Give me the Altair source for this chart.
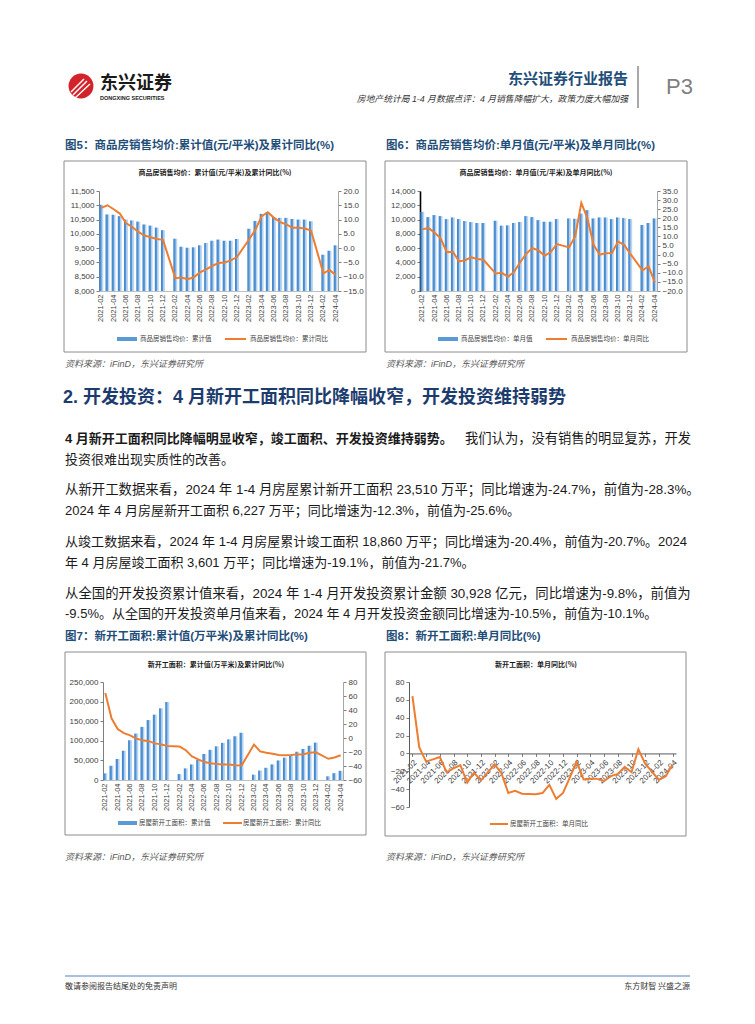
import altair as alt
import pandas as pd

SANS = "Liberation Sans, Noto Sans CJK SC"
CJK = "Noto Sans CJK SC, Liberation Sans"
NAVY = "#1f4e79"
ORANGE = "#ed7d31"
BLUE = "#5b9bd5"
AXC = "#404040"
W, H = 739, 1008

# ---------------- data ----------------
SLOTS = [
    "2021-02", "2021-03", "2021-04", "2021-05", "2021-06", "2021-07", "2021-08", "2021-09", "2021-10", "2021-11", "2021-12",
    "2022-01", "2022-02", "2022-03", "2022-04", "2022-05", "2022-06", "2022-07", "2022-08", "2022-09", "2022-10", "2022-11", "2022-12",
    "2023-01", "2023-02", "2023-03", "2023-04", "2023-05", "2023-06", "2023-07", "2023-08", "2023-09", "2023-10", "2023-11", "2023-12",
    "2024-01", "2024-02", "2024-03", "2024-04",
]
TICKS = SLOTS[::2]

# 图5 商品房销售均价 累计值(元/平米) / 累计同比(%)
PRICE_CUM = [11020, 10680, 10670, 10620, 10500, 10470, 10430, 10330, 10290, 10220, 10130,
             None, 9830, 9550, 9515, 9530, 9600, 9680, 9760, 9800, 9760, 9760, 9820,
             None, 10180, 10450, 10700, 10760, 10580, 10560, 10560, 10520, 10500, 10500, 10440,
             None, 9270, 9410, 9600]
PRICE_CUM_YOY = [14.1, 15.0, 13.6, 12.1, 8.8, 7.4, 5.7, 4.4, 3.8, 3.2, 2.9,
                 None, -10.5, -10.3, -10.9, -10.2, -8.5, -7.4, -6.2, -5.2, -5.0, -4.3, -3.1,
                 None, 3.2, 6.5, 11.2, 12.6, 10.6, 9.1, 8.3, 7.1, 7.1, 6.9, 6.2,
                 None, -8.8, -7.6, -9.4]
# 图6 商品房销售均价 单月值(元/平米) / 单月同比(%)
PRICE_MON = [11090, 10350, 10630, 10490, 10070, 10300, 10070, 9790, 9650, 9520, 9520,
             None, 9840, 9150, 9190, 9520, 9650, 10490, 10350, 9930, 9700, 9700, 10070,
             None, 10160, 10120, 10850, 11320, 10160, 10300, 10300, 10070, 10300, 10210, 10070,
             None, 9240, 9520, 10160]
PRICE_MON_YOY = [13.9, 14.7, 12.1, 9.0, 1.4, 1.6, -3.7, -3.1, -1.5, -2.4, -2.8,
                 None, -10.4, -10.0, -12.2, -9.5, -4.2, 0.5, 3.6, 2.3, -0.6, 1.4, 5.8,
                 None, 4.0, 10.0, 28.5, 20.0, 5.4, 0.0, 0.7, 0.9, 7.2, 5.4, 0.5,
                 None, -8.7, -6.4, -15.1]
# 图7 新开工面积 累计值(万平米) / 累计同比(%)
START_CUM = [17001, 36163, 53647, 74700, 101288, 118469, 135502, 152944, 166736, 182820, 198895,
             None, 15112, 29638, 39739, 51628, 66423, 76918, 85905, 94767, 103722, 111632, 120587,
             None, 13567, 24121, 31152, 39723, 49880, 56969, 63891, 72123, 79177, 87456, 95376,
             None, 9429, 17402, 23510]
START_CUM_YOY = [64.3, 28.2, 12.8, 6.9, 3.8, -0.9, -3.2, -4.5, -7.7, -9.1, -11.4,
                 None, -12.2, -17.5, -26.3, -30.6, -34.4, -36.1, -37.2, -38.0, -37.8, -38.9, -39.4,
                 None, -9.4, -19.2, -21.2, -22.6, -24.3, -24.5, -24.4, -23.4, -23.2, -21.2, -20.4,
                 None, -29.7, -27.8, -24.6]
# 图8 新开工面积 单月同比(%)
START_MON_YOY = [64.3, 6.7, -9.2, -6.7, -4.1, -21.1, -16.7, -13.0, -32.6, -21.5, -30.4,
                 None, -12.2, -22.2, -44.2, -41.8, -45.1, -45.4, -45.7, -44.4, -35.1, -50.9, -44.3,
                 None, -9.4, -29.1, -28.3, -28.5, -30.9, -25.4, -23.0, -15.1, -21.0, 4.6, -11.5,
                 None, -29.7, -25.6, -12.3]

# ---------------- texts ----------------
SOURCE = "资料来源：iFinD，东兴证券研究所"
FIG5 = "图5：商品房销售均价:累计值(元/平米)及累计同比(%)"
FIG6 = "图6：商品房销售均价:单月值(元/平米)及单月同比(%)"
FIG7 = "图7：新开工面积:累计值(万平米)及累计同比(%)"
FIG8 = "图8：新开工面积:单月同比(%)"
HEADING = "2. 开发投资：4 月新开工面积同比降幅收窄，开发投资维持弱势"
P1A = "4 月新开工面积同比降幅明显收窄，竣工面积、开发投资维持弱势。"
P1B = "我们认为，没有销售的明显复苏，开发"
LINES = [
    "投资很难出现实质性的改善。",
    "从新开工数据来看，2024 年 1-4 月房屋累计新开工面积 23,510 万平；同比增速为-24.7%，前值为-28.3%。",
    "2024 年 4 月房屋新开工面积 6,227 万平；同比增速为-12.3%，前值为-25.6%。",
    "从竣工数据来看，2024 年 1-4 月房屋累计竣工面积 18,860 万平；同比增速为-20.4%，前值为-20.7%。2024",
    "年 4 月房屋竣工面积 3,601 万平；同比增速为-19.1%，前值为-21.7%。",
    "从全国的开发投资累计值来看，2024 年 1-4 月开发投资累计金额 30,928 亿元，同比增速为-9.8%，前值为",
    "-9.5%。从全国的开发投资单月值来看，2024 年 4 月开发投资金额同比增速为-10.5%，前值为-10.1%。",
]

ONE = pd.DataFrame({"k": [0]})
PI, PO = 0.35, 0.05
PT = (1 - PI + 2 * PO) / 2   # point padding matching the band centres


def frame(vals):
    rows = [(m, v) for m, v in zip(SLOTS, vals) if v is not None]
    return pd.DataFrame(rows, columns=["m", "v"])


def T(s, x, y, size, color="#1a1a1a", weight="normal", align="left", font=CJK, style="normal"):
    return alt.Chart(ONE).mark_text(
        text=s, fontSize=size, color=color, fontWeight=weight, align=align,
        baseline="middle", font=font, fontStyle=style
    ).encode(x=alt.value(x), y=alt.value(y))


def HR(x1, x2, y, color, w):
    return alt.Chart(ONE).mark_rule(color=color, strokeWidth=w).encode(
        x=alt.value(x1), x2=alt.value(x2), y=alt.value(y))


def VR(x, y1, y2, color, w):
    return alt.Chart(ONE).mark_rule(color=color, strokeWidth=w).encode(
        x=alt.value(x), y=alt.value(y1), y2=alt.value(y2))


def BOX(x1, x2, y1, y2):
    return alt.Chart(ONE).mark_rect(filled=False, color="#8c8c8c", strokeWidth=1).encode(
        x=alt.value(x1), x2=alt.value(x2), y=alt.value(y1), y2=alt.value(y2))


GRAD = alt.Gradient(
    gradient="linear", x1=0, x2=1, y1=0, y2=0,
    stops=[alt.GradientStop(color="#3f82cd", offset=0),
           alt.GradientStop(color="#5b9bd5", offset=0.52),
           alt.GradientStop(color="#a9cbee", offset=0.58),
           alt.GradientStop(color="#c6ddf5", offset=1)])


def xaxis(ybottom, angle=-90, dc="#bfbfbf", ticks=False, size=7.5):
    return alt.Axis(values=TICKS, labelAngle=angle, labelFontSize=size, labelColor=AXC,
                    labelPadding=3 if angle == -90 else 2, ticks=ticks, tickSize=3,
                    tickColor="#7f7f7f", domainColor=dc, title=None, labelFont=SANS,
                    labelOverlap=False, orient="bottom", offset=ybottom - H)


def yaxis(vals, fmt, orient, xpos, dc, dw=1):
    off = -xpos if orient == "left" else xpos - W
    return alt.Axis(values=vals, format=fmt, orient=orient, offset=off, labelFontSize=8,
                    labelColor=AXC, grid=False, title=None, domainColor=dc, domainWidth=dw,
                    tickColor="#7f7f7f", tickSize=3, labelPadding=2, labelFont=SANS)


def dual(bars, line, xr, yr, ld, lv, lf, rd, rv, rf, ldc="#7f7f7f", ldw=1):
    b = alt.Chart(frame(bars)).mark_bar(color=GRAD).encode(
        x=alt.X("m:N", scale=alt.Scale(domain=SLOTS, range=xr, paddingInner=PI, paddingOuter=PO),
                axis=xaxis(yr[0])),
        y=alt.Y("v:Q", scale=alt.Scale(domain=ld, range=yr, nice=False, zero=False),
                axis=yaxis(lv, lf, "left", xr[0], ldc, ldw)),
        y2=alt.datum(ld[0]))
    l = alt.Chart(frame(line)).mark_line(color=ORANGE, strokeWidth=2).encode(
        x=alt.X("m:N", scale=alt.Scale(domain=SLOTS, range=xr, type="point", padding=PT), axis=None),
        y=alt.Y("v:Q", scale=alt.Scale(domain=rd, range=yr, nice=False, zero=False),
                axis=yaxis(rv, rf, "right", xr[1], "#a6a6a6")))
    return [b, l]


layers = []

# ---------------- header ----------------
layers += [
    alt.Chart(ONE).mark_point(shape="circle", filled=True, size=620, color="#d3232a", opacity=1).encode(
        x=alt.value(73), y=alt.value(78)),
    alt.Chart(ONE).mark_rule(color="white", strokeWidth=1.4).encode(
        x=alt.value(63), y=alt.value(84), x2=alt.value(76), y2=alt.value(71)),
    alt.Chart(ONE).mark_rule(color="white", strokeWidth=1.4).encode(
        x=alt.value(65), y=alt.value(87), x2=alt.value(79), y2=alt.value(73)),
    alt.Chart(ONE).mark_rule(color="white", strokeWidth=1.4).encode(
        x=alt.value(67), y=alt.value(90), x2=alt.value(82), y2=alt.value(76)),
    T("东兴证券", 92, 76, 18, "#1a1a1a", weight="bold"),
    T("DONGXING SECURITIES", 92, 90, 5.5, "#1a1a1a", weight="bold", font=SANS),
    T("东兴证券行业报告", 620, 71, 15, NAVY, weight="bold", align="right"),
    T("房地产统计局 1-4 月数据点评：4 月销售降幅扩大，政策力度大幅加强", 620, 91, 8.8, "#333333",
      align="right", font=SANS, style="italic"),
    VR(630, 58, 100, "#8c8c8c", 1.5),
    T("P3", 658, 79, 22, "#7f7f7f", font=SANS),
    T(FIG5, 57, 138, 11.5, NAVY, weight="bold", font=SANS),
    T(FIG6, 378, 138, 11.5, NAVY, weight="bold", font=SANS),
]

# ---------------- chart 5 ----------------
layers += dual(PRICE_CUM, PRICE_CUM_YOY, [91, 330], [283, 183], [8000, 11500],
               list(range(8000, 11501, 500)), ",.0f", [-15, 20], list(range(-15, 21, 5)), ".1f")
layers += [
    BOX(56, 358, 153, 344),
    T("商品房销售均价：累计值(元/平米)及累计同比(%)", 207, 165, 7, weight="bold", align="center"),
    HR(109, 129, 331, BLUE, 4), T("商品房销售均价：累计值", 132, 331, 6.5, AXC),
    HR(217, 238, 331, ORANGE, 2), T("商品房销售均价：累计同比", 242, 331, 6.5, AXC),
]

# ---------------- chart 6 ----------------
layers += dual(PRICE_MON, PRICE_MON_YOY, [412, 649], [283, 183], [0, 14000],
               list(range(0, 14001, 2000)), ",.0f", [-20, 35], list(range(-20, 36, 5)), ".1f",
               ldc="#000000", ldw=1.6)
layers += [
    BOX(377, 679, 153, 344),
    T("商品房销售均价：单月值(元/平米)及单月同比(%)", 528, 165, 7, weight="bold", align="center"),
    HR(430, 450, 331, BLUE, 4), T("商品房销售均价：单月值", 453, 331, 6.5, AXC),
    HR(538, 559, 331, ORANGE, 2), T("商品房销售均价：单月同比", 563, 331, 6.5, AXC),
]

# ---------------- text block ----------------
ys = [452, 482, 503, 534, 555, 586, 606]
sizes = [13, 13.38, 13, 13.05, 13, 13.4, 13]
layers += [
    T(SOURCE, 57, 356, 9, "#595959", font=SANS, style="italic"),
    T(SOURCE, 378, 356, 9, "#595959", font=SANS, style="italic"),
    T(HEADING, 55, 390, 18, "#1c3c6e", weight="bold", font=SANS),
    T(P1A, 57, 431, 13, "#1a1a1a", weight="bold", font=SANS),
    T(P1B, 457, 431, 13.3, "#1a1a1a", font=SANS),
]
for s, y, fs in zip(LINES, ys, sizes):
    layers.append(T(s, 57, y, fs, "#1a1a1a", font=SANS))
layers += [
    T(FIG7, 57, 629, 11.5, NAVY, weight="bold", font=SANS),
    T(FIG8, 378, 629, 11.5, NAVY, weight="bold", font=SANS),
]

# ---------------- chart 7 ----------------
layers += dual(START_CUM, START_CUM_YOY, [95, 335], [772, 674], [0, 250000],
               list(range(0, 250001, 50000)), ",.0f", [-60, 80], list(range(-60, 81, 20)), "d")
layers += [
    BOX(57, 358, 644, 827),
    T("新开工面积：累计值(万平米)及累计同比(%)", 208, 657, 7, weight="bold", align="center"),
    HR(110, 129, 815, BLUE, 4), T("房屋新开工面积：累计值", 131, 815, 6.5, AXC),
    HR(215, 234, 815, ORANGE, 2), T("房屋新开工面积：累计同比", 235, 815, 6.5, AXC),
]

# ---------------- chart 8 ----------------
X8, Y8R, Y8 = [401, 668], [799, 674], [-60, 80]
zero8 = Y8R[0] - (Y8R[0] - Y8R[1]) * (0 - Y8[0]) / (Y8[1] - Y8[0])
layers.append(
    alt.Chart(frame(START_MON_YOY)).mark_line(color=ORANGE, strokeWidth=2).encode(
        x=alt.X("m:N", scale=alt.Scale(domain=SLOTS, range=X8, type="point", padding=0.5),
                axis=xaxis(zero8, angle=-45, dc="#595959", ticks=True, size=8)),
        y=alt.Y("v:Q", scale=alt.Scale(domain=Y8, range=Y8R, nice=False, zero=False),
                axis=yaxis(list(range(-60, 81, 20)), "d", "left", X8[0], "#595959")))
)
layers += [
    BOX(377, 678, 644, 828),
    T("新开工面积：单月同比(%)", 528, 657, 7, weight="bold", align="center"),
    HR(482, 500, 816, ORANGE, 2), T("房屋新开工面积：单月同比", 502, 816, 6.5, AXC),
]

# ---------------- footer ----------------
layers += [
    T(SOURCE, 57, 849, 9, "#595959", font=SANS, style="italic"),
    T(SOURCE, 378, 849, 9, "#595959", font=SANS, style="italic"),
    HR(57, 682, 968, "#8eaad3", 1.6),
    T("敬请参阅报告结尾处的免责声明", 57, 979, 8, "#333333"),
    T("东方财智 兴盛之源", 682, 979, 8, "#333333", align="right"),
]

chart = alt.layer(*layers).resolve_scale(x="independent", y="independent").properties(
    width=W, height=H, padding=0, background="white",
    autosize=alt.AutoSizeParams(type="none"),
).configure_view(stroke=None)

chart.save("out.html", embed_options={"renderer": "svg", "actions": False})
